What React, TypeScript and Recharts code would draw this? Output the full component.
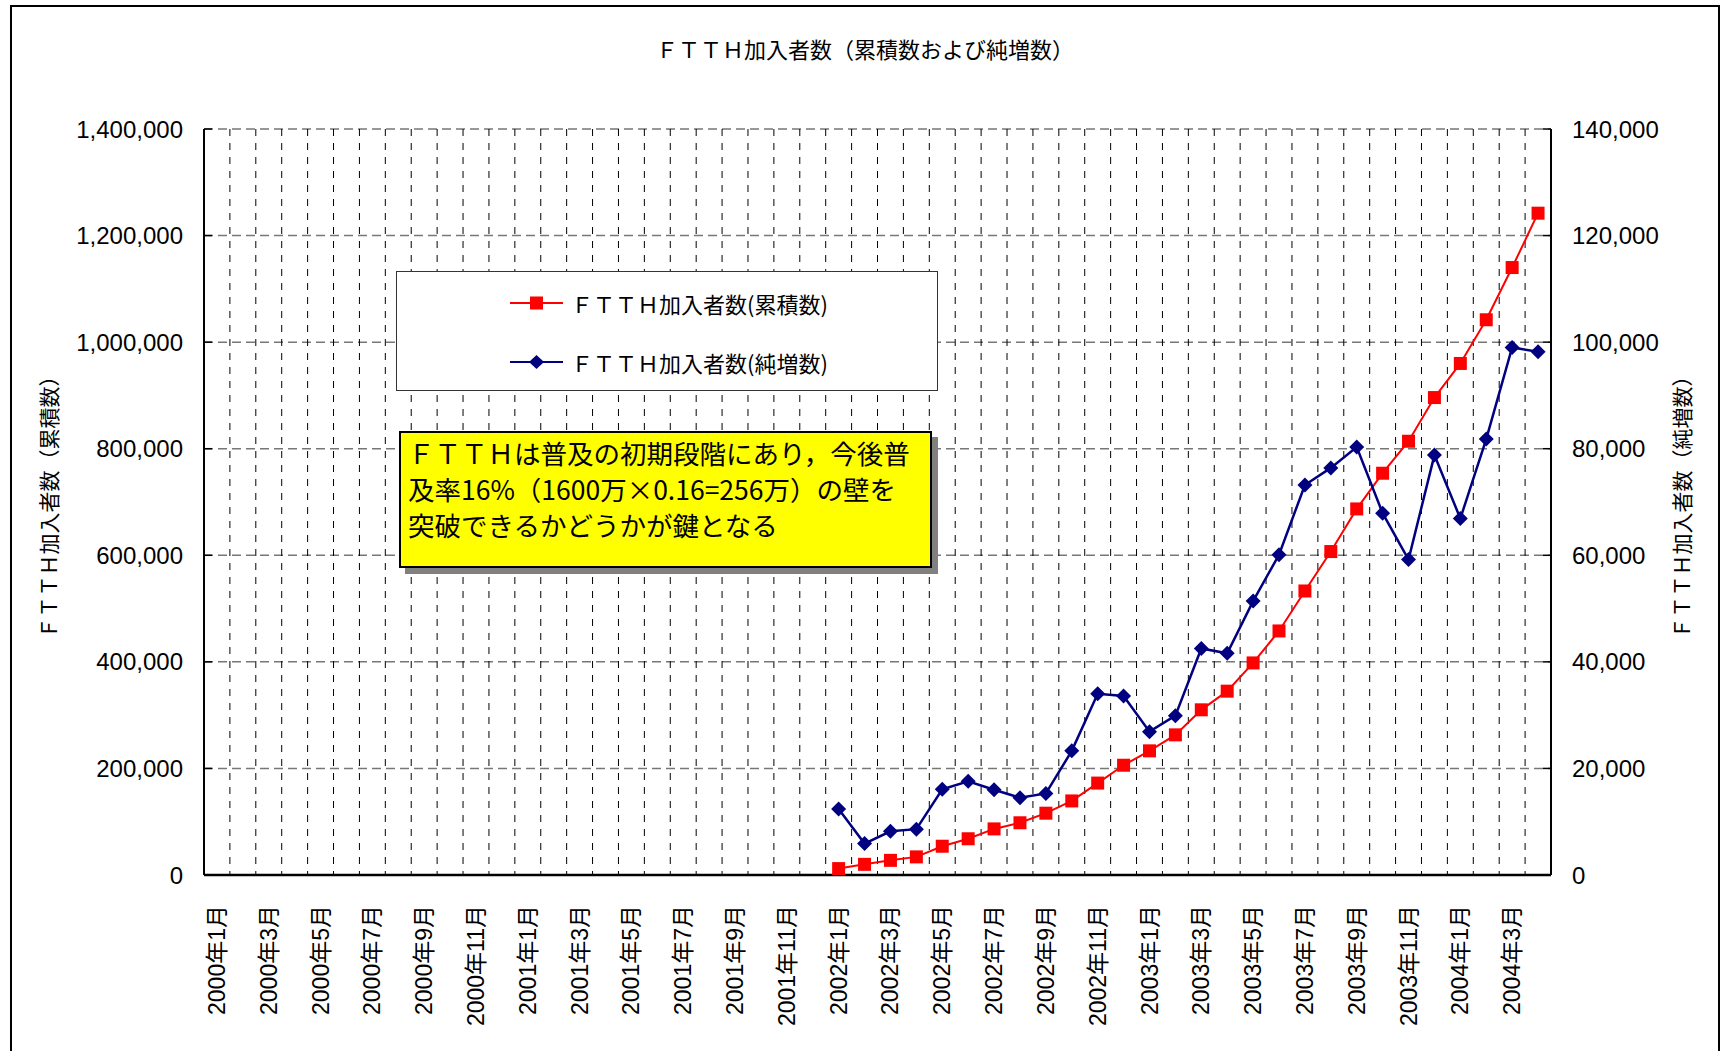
import { LineChart, Line, XAxis, YAxis, CartesianGrid, Legend } from "recharts";

// Month categories (every month, labels shown every other month)
const months = [
  "2000年1月", "2000年2月", "2000年3月", "2000年4月", "2000年5月", "2000年6月",
  "2000年7月", "2000年8月", "2000年9月", "2000年10月", "2000年11月", "2000年12月",
  "2001年1月", "2001年2月", "2001年3月", "2001年4月", "2001年5月", "2001年6月",
  "2001年7月", "2001年8月", "2001年9月", "2001年10月", "2001年11月", "2001年12月",
  "2002年1月", "2002年2月", "2002年3月", "2002年4月", "2002年5月", "2002年6月",
  "2002年7月", "2002年8月", "2002年9月", "2002年10月", "2002年11月", "2002年12月",
  "2003年1月", "2003年2月", "2003年3月", "2003年4月", "2003年5月", "2003年6月",
  "2003年7月", "2003年8月", "2003年9月", "2003年10月", "2003年11月", "2003年12月",
  "2004年1月", "2004年2月", "2004年3月", "2004年4月",
];

const firstDataMonth = "2002年1月";

// FTTH加入者数(累積数), 2002年1月〜2004年4月
const cumulative = [
  12000, 20000, 27500, 34000, 54000, 68000, 86500, 98000, 116000, 139000,
  172500, 206000, 233000, 263000, 310000, 345000, 398000, 458000, 533000, 607000,
  687000, 754000, 814000, 896000, 960000, 1042000, 1140000, 1242000,
];

// FTTH加入者数(純増数), 2002年1月〜2004年4月
const netIncrease = [
  12400, 5900, 8200, 8600, 16100, 17600, 16000, 14500, 15300, 23300,
  34000, 33600, 26900, 29900, 42500, 41600, 51400, 60100, 73200, 76400,
  80300, 67900, 59200, 78800, 66900, 81800, 99000, 98200,
];

const leftTicks = [0, 200000, 400000, 600000, 800000, 1000000, 1200000, 1400000];
const rightTicks = [0, 20000, 40000, 60000, 80000, 100000, 120000, 140000];

const cumName = "ＦＴＴＨ加入者数(累積数)";
const netName = "ＦＴＴＨ加入者数(純増数)";

const startIdx = months.indexOf(firstDataMonth);
const data = months.map((month, i) => ({
  month,
  cum: i >= startIdx ? cumulative[i - startIdx] : null,
  net: i >= startIdx ? netIncrease[i - startIdx] : null,
}));

const JP = "'Noto Sans CJK JP', 'Noto Sans', sans-serif";
const NUM = "'Liberation Sans', Arial, 'Noto Sans CJK JP', sans-serif";

const SquareDot = (props: any) => {
  const { cx, cy, index } = props;
  if (cx == null || cy == null) return <g key={`sq-${index}`} />;
  return <rect key={`sq-${index}`} x={cx - 6.5} y={cy - 6.5} width={13} height={13} fill="#FF0000" />;
};

const DiamondDot = (props: any) => {
  const { cx, cy, index } = props;
  if (cx == null || cy == null) return <g key={`dm-${index}`} />;
  const r = 7.5;
  return (
    <polygon
      key={`dm-${index}`}
      points={`${cx},${cy - r} ${cx + r},${cy} ${cx},${cy + r} ${cx - r},${cy}`}
      fill="#000080"
    />
  );
};

function MonthTick({ x, y, payload }: any) {
  return (
    <text
      x={x}
      y={y}
      transform={`rotate(-90, ${x}, ${y})`}
      textAnchor="end"
      dy="0.35em"
      fontSize={23}
      fontFamily={NUM}
      fill="#000"
    >
      {payload.value}
    </text>
  );
}

function LegendBox() {
  const items = [
    { name: cumName, color: "#FF0000", shape: "square" },
    { name: netName, color: "#000080", shape: "diamond" },
  ];
  return (
    <div
      style={{
        boxSizing: "border-box",
        width: 542,
        height: 120,
        border: "1px solid #333",
        background: "#fff",
        position: "relative",
      }}
    >
      {items.map((it, k) => (
        <div
          key={it.name}
          style={{
            position: "absolute",
            left: 112,
            top: k === 0 ? 16 : 75,
            height: 30,
            display: "flex",
            alignItems: "center",
          }}
        >
          <svg width={56} height={30}>
            <line x1={1} y1={15} x2={54} y2={15} stroke={it.color} strokeWidth={2} />
            {it.shape === "square" ? (
              <rect x={21} y={8.5} width={13} height={13} fill={it.color} />
            ) : (
              <polygon points="27.5,8 35,15 27.5,22 20,15" fill={it.color} />
            )}
          </svg>
          <span style={{ marginLeft: 6, fontSize: 22, fontFamily: JP, color: "#000", whiteSpace: "nowrap" }}>
            {it.name}
          </span>
        </div>
      ))}
    </div>
  );
}

export default function App() {
  return (
    <div
      style={{
        position: "absolute",
        left: 0,
        top: 0,
        width: 1730,
        height: 1051,
        overflow: "hidden",
        background: "#fff",
      }}
    >
      <div
        style={{
          position: "absolute",
          left: 10,
          top: 5,
          width: 1710,
          height: 1100,
          boxSizing: "border-box",
          border: "2px solid #000",
        }}
      />
      <div style={{ position: "absolute", left: 0, top: 0 }}>
        <LineChart
          width={1730}
          height={1051}
          data={data}
          margin={{ top: 129, right: 20, bottom: 0, left: 20 }}
        >
          <CartesianGrid
            yAxisId="left"
            vertical={false}
            stroke="#777"
            strokeWidth={1.5}
            strokeDasharray="9 5"
          />
          <CartesianGrid
            yAxisId="left"
            horizontal={false}
            stroke="#000"
            strokeWidth={1}
            strokeDasharray="7 7"
            verticalCoordinatesGenerator={({ offset }: any) =>
              months.slice(1).map((_, k) => offset.left + ((k + 1) * offset.width) / months.length)
            }
          />
          <XAxis
            dataKey="month"
            scale="band"
            interval={1}
            tick={<MonthTick />}
            tickLine={false}
            tickSize={0}
            tickMargin={30}
            height={176}
            axisLine={{ stroke: "#000", strokeWidth: 2.5 }}
          />
          <XAxis
            xAxisId="top"
            orientation="top"
            dataKey="month"
            scale="band"
            height={0}
            tick={false}
            tickLine={false}
            axisLine={{ stroke: "#000", strokeWidth: 2 }}
          />
          <YAxis
            yAxisId="left"
            width={184}
            domain={[0, 1400000]}
            ticks={leftTicks}
            interval={0}
            tickFormatter={(v: number) => v.toLocaleString("en-US")}
            tick={{ fontSize: 24, fontFamily: NUM, fill: "#000" }}
            tickSize={-8}
            tickMargin={29}
            tickLine={{ stroke: "#000", strokeWidth: 1.5 }}
            axisLine={{ stroke: "#000", strokeWidth: 2 }}
            label={{
              value: "ＦＴＴＨ加入者数（累積数）",
              angle: -90,
              position: "insideLeft",
              offset: 30,
              style: { textAnchor: "middle", fontSize: 21, fontFamily: JP, fill: "#000" },
            }}
          />
          <YAxis
            yAxisId="right"
            orientation="right"
            width={159}
            domain={[0, 140000]}
            ticks={rightTicks}
            interval={0}
            tickFormatter={(v: number) => v.toLocaleString("en-US")}
            tick={{ fontSize: 24, fontFamily: NUM, fill: "#000" }}
            tickSize={-8}
            tickMargin={29}
            tickLine={{ stroke: "#000", strokeWidth: 1.5 }}
            axisLine={{ stroke: "#000", strokeWidth: 2 }}
            label={{
              value: "ＦＴＴＨ加入者数（純増数）",
              angle: -90,
              position: "insideRight",
              offset: 27,
              style: { textAnchor: "middle", fontSize: 21, fontFamily: JP, fill: "#000" },
            }}
          />
          <Legend
            layout="vertical"
            align="center"
            verticalAlign="middle"
            wrapperStyle={{ left: 396, top: 271, width: 542, height: 120 }}
            content={() => <LegendBox />}
          />
          <Line
            yAxisId="left"
            dataKey="cum"
            name={cumName}
            stroke="#FF0000"
            strokeWidth={2}
            dot={SquareDot}
            activeDot={false}
            isAnimationActive={false}
          />
          <Line
            yAxisId="right"
            dataKey="net"
            name={netName}
            stroke="#000080"
            strokeWidth={2.5}
            dot={DiamondDot}
            activeDot={false}
            isAnimationActive={false}
          />
        </LineChart>
      </div>
      <div
        style={{
          position: "absolute",
          left: 11,
          top: 36,
          width: 1708,
          textAlign: "center",
          fontSize: 22,
          lineHeight: "24px",
          fontFamily: JP,
          color: "#000",
        }}
      >
        ＦＴＴＨ加入者数（累積数および純増数）
      </div>
      <div
        style={{
          position: "absolute",
          left: 399,
          top: 431,
          width: 533,
          height: 137,
          boxSizing: "border-box",
          background: "#FFFF00",
          border: "2px solid #000",
          boxShadow: "6px 6px 0 #808080",
          padding: "2px 0 0 7px",
          fontSize: 26.5,
          lineHeight: "36px",
          fontFamily: JP,
          color: "#000",
          whiteSpace: "nowrap",
        }}
      >
        <div>ＦＴＴＨは普及の初期段階にあり，今後普</div>
        <div>及率16%（1600万×0.16=256万）の壁を</div>
        <div>突破できるかどうかが鍵となる</div>
      </div>
    </div>
  );
}
